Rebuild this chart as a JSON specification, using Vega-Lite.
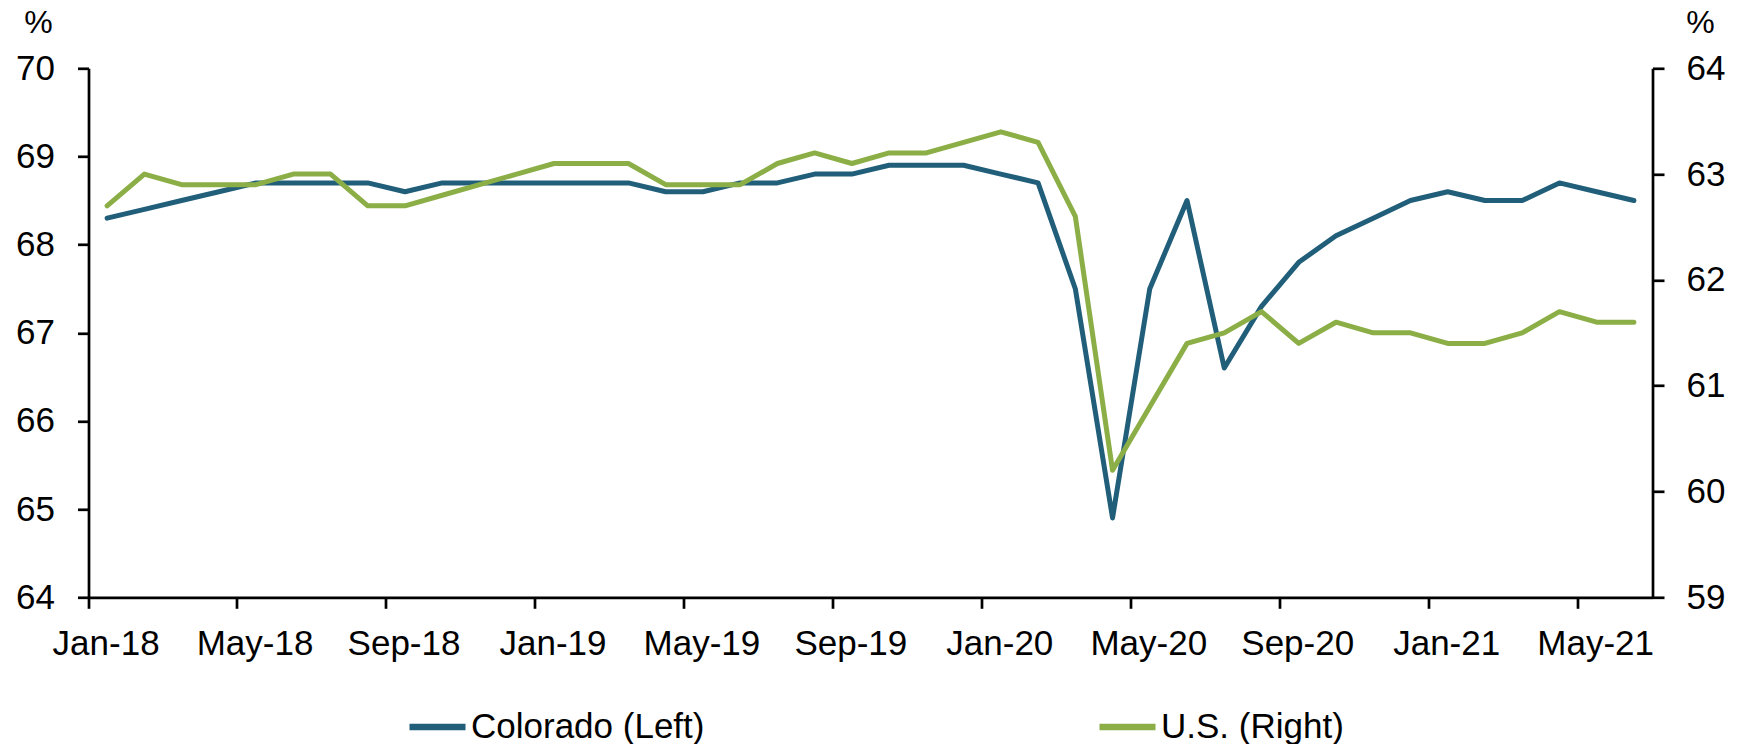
{
  "$schema": "https://vega.github.io/schema/vega-lite/v6.json",
  "width": 1564,
  "height": 529,
  "autosize": {"type": "none"},
  "padding": {"left": 88.5, "top": 68.3, "right": 93.5, "bottom": 146.7},
  "background": "white",
  "config": {"view": {"stroke": null}, "font": "Liberation Sans"},
  "data": {"values": [
    {"month": "Jan-18", "colorado": 68.3, "us": 62.7},
    {"month": "Feb-18", "colorado": 68.4, "us": 63.0},
    {"month": "Mar-18", "colorado": 68.5, "us": 62.9},
    {"month": "Apr-18", "colorado": 68.6, "us": 62.9},
    {"month": "May-18", "colorado": 68.7, "us": 62.9},
    {"month": "Jun-18", "colorado": 68.7, "us": 63.0},
    {"month": "Jul-18", "colorado": 68.7, "us": 63.0},
    {"month": "Aug-18", "colorado": 68.7, "us": 62.7},
    {"month": "Sep-18", "colorado": 68.6, "us": 62.7},
    {"month": "Oct-18", "colorado": 68.7, "us": 62.8},
    {"month": "Nov-18", "colorado": 68.7, "us": 62.9},
    {"month": "Dec-18", "colorado": 68.7, "us": 63.0},
    {"month": "Jan-19", "colorado": 68.7, "us": 63.1},
    {"month": "Feb-19", "colorado": 68.7, "us": 63.1},
    {"month": "Mar-19", "colorado": 68.7, "us": 63.1},
    {"month": "Apr-19", "colorado": 68.6, "us": 62.9},
    {"month": "May-19", "colorado": 68.6, "us": 62.9},
    {"month": "Jun-19", "colorado": 68.7, "us": 62.9},
    {"month": "Jul-19", "colorado": 68.7, "us": 63.1},
    {"month": "Aug-19", "colorado": 68.8, "us": 63.2},
    {"month": "Sep-19", "colorado": 68.8, "us": 63.1},
    {"month": "Oct-19", "colorado": 68.9, "us": 63.2},
    {"month": "Nov-19", "colorado": 68.9, "us": 63.2},
    {"month": "Dec-19", "colorado": 68.9, "us": 63.3},
    {"month": "Jan-20", "colorado": 68.8, "us": 63.4},
    {"month": "Feb-20", "colorado": 68.7, "us": 63.3},
    {"month": "Mar-20", "colorado": 67.5, "us": 62.6},
    {"month": "Apr-20", "colorado": 64.9, "us": 60.2},
    {"month": "May-20", "colorado": 67.5, "us": 60.8},
    {"month": "Jun-20", "colorado": 68.5, "us": 61.4},
    {"month": "Jul-20", "colorado": 66.6, "us": 61.5},
    {"month": "Aug-20", "colorado": 67.3, "us": 61.7},
    {"month": "Sep-20", "colorado": 67.8, "us": 61.4},
    {"month": "Oct-20", "colorado": 68.1, "us": 61.6},
    {"month": "Nov-20", "colorado": 68.3, "us": 61.5},
    {"month": "Dec-20", "colorado": 68.5, "us": 61.5},
    {"month": "Jan-21", "colorado": 68.6, "us": 61.4},
    {"month": "Feb-21", "colorado": 68.5, "us": 61.4},
    {"month": "Mar-21", "colorado": 68.5, "us": 61.5},
    {"month": "Apr-21", "colorado": 68.7, "us": 61.7},
    {"month": "May-21", "colorado": 68.6, "us": 61.6},
    {"month": "Jun-21", "colorado": 68.5, "us": 61.6}
  ]},
  "encoding": {
    "x": {
      "field": "month",
      "type": "ordinal",
      "sort": null,
      "scale": {"type": "band", "paddingInner": 0, "paddingOuter": 0},
      "axis": {
        "title": null,
        "values": ["Jan-18", "May-18", "Sep-18", "Jan-19", "May-19", "Sep-19", "Jan-20", "May-20", "Sep-20", "Jan-21", "May-21"],
        "bandPosition": 0,
        "labelOffset": -1,
        "labelAngle": 0,
        "labelFontSize": 35,
        "labelColor": "black",
        "labelPadding": 18,
        "labelOverlap": false,
        "tickSize": 11,
        "tickWidth": 2.7,
        "tickColor": "black",
        "domainWidth": 2.7,
        "domainColor": "black",
        "grid": false
      }
    }
  },
  "layer": [
    {
      "mark": {"type": "line", "strokeWidth": 5, "strokeJoin": "round", "strokeCap": "round"},
      "encoding": {
        "y": {
          "field": "colorado",
          "type": "quantitative",
          "scale": {"domain": [64, 70], "nice": false, "zero": false},
          "axis": {
            "title": "%",
            "titleAngle": 0,
            "titleX": -50.5,
            "titleY": -36,
            "titleAlign": "center",
            "titleBaseline": "alphabetic",
            "titleFontSize": 32,
            "titleFontWeight": "normal",
            "titleColor": "black",
            "values": [64, 65, 66, 67, 68, 69, 70],
            "labelFontSize": 35,
            "labelColor": "black",
            "labelPadding": 23,
            "tickSize": 11,
            "tickWidth": 2.7,
            "tickColor": "black",
            "domainWidth": 2.7,
            "domainColor": "black",
            "grid": false
          }
        },
        "color": {
          "datum": "Colorado (Left)",
          "scale": {"domain": ["Colorado (Left)", "U.S. (Right)"], "range": ["#215e7a", "#8bae46"]},
          "legend": {
            "orient": "none",
            "legendX": 317.5,
            "legendY": 627,
            "direction": "horizontal",
            "columns": 2,
            "columnPadding": 381,
            "symbolType": "stroke",
            "symbolSize": 3136,
            "symbolStrokeWidth": 6.5,
            "labelFontSize": 35,
            "labelColor": "black",
            "labelOffset": 2,
            "labelLimit": 400,
            "title": null
          }
        }
      }
    },
    {
      "mark": {"type": "line", "strokeWidth": 5, "strokeJoin": "round", "strokeCap": "round"},
      "encoding": {
        "y": {
          "field": "us",
          "type": "quantitative",
          "scale": {"domain": [59, 64], "nice": false, "zero": false},
          "axis": {
            "orient": "right",
            "title": "%",
            "titleAngle": 0,
            "titleX": 47.5,
            "titleY": -36,
            "titleAlign": "center",
            "titleBaseline": "alphabetic",
            "titleFontSize": 32,
            "titleFontWeight": "normal",
            "titleColor": "black",
            "values": [59, 60, 61, 62, 63, 64],
            "labelFontSize": 35,
            "labelColor": "black",
            "labelPadding": 22,
            "tickSize": 11.5,
            "tickWidth": 2.7,
            "tickColor": "black",
            "domainWidth": 2.7,
            "domainColor": "black",
            "grid": false
          }
        },
        "color": {"datum": "U.S. (Right)"}
      }
    }
  ],
  "resolve": {"scale": {"y": "independent"}}
}
